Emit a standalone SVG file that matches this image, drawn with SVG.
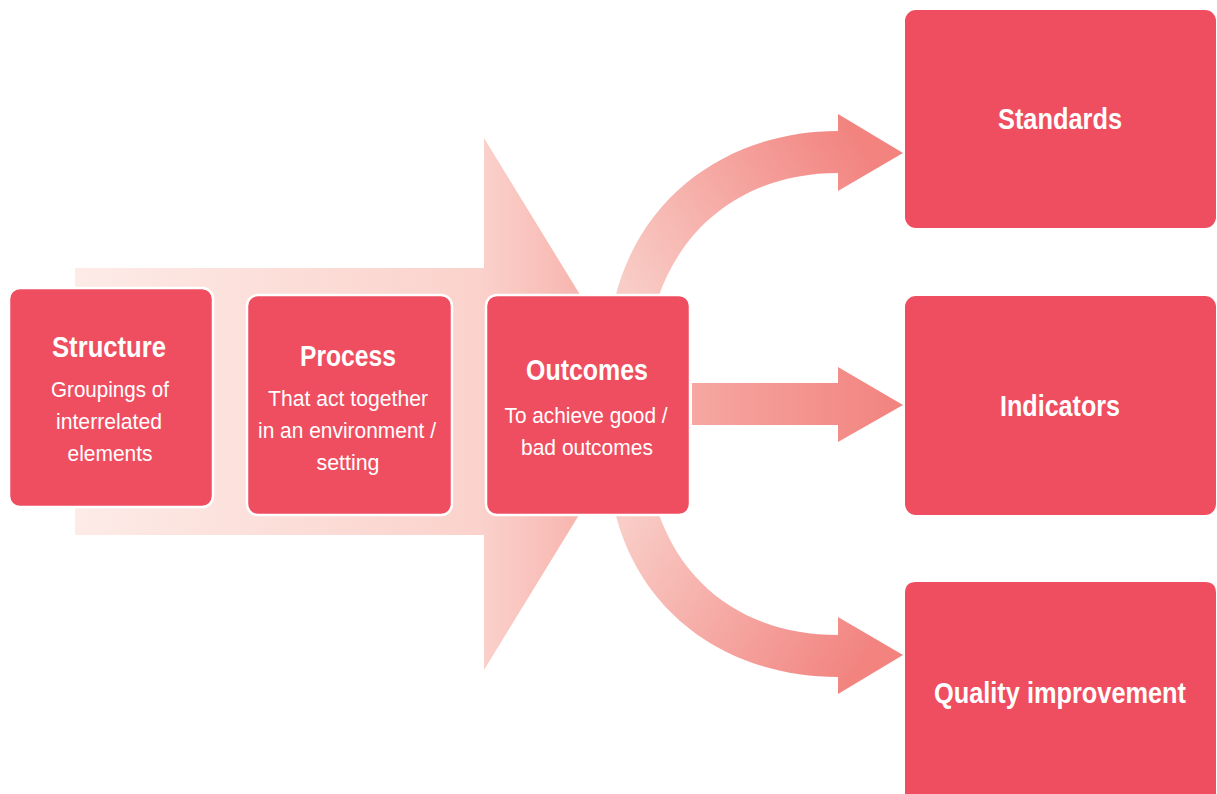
<svg xmlns="http://www.w3.org/2000/svg" width="1217" height="794" viewBox="0 0 1217 794">
<style>
.box{fill:#ef4e60;stroke:#ffffff;stroke-width:2.5}
.rbox{fill:#ef4e60}
.t{font-family:"Liberation Sans",Arial,sans-serif;fill:#ffffff;text-anchor:middle}
.h{font-weight:bold;font-size:30px}
.s{font-size:22.5px}
</style>
<defs>
<linearGradient id="big" x1="75" y1="0" x2="650" y2="0" gradientUnits="userSpaceOnUse">
<stop offset="0" stop-color="#fdebe7"/>
<stop offset="0.7" stop-color="#fbd2cc"/>
<stop offset="1" stop-color="#f5a29c"/>
</linearGradient>
<linearGradient id="gTop" x1="625" y1="290" x2="860" y2="140" gradientUnits="userSpaceOnUse">
<stop offset="0" stop-color="#f9cdc7"/>
<stop offset="1" stop-color="#f2837f"/>
</linearGradient>
<linearGradient id="gBot" x1="625" y1="518" x2="860" y2="668" gradientUnits="userSpaceOnUse">
<stop offset="0" stop-color="#f9cdc7"/>
<stop offset="1" stop-color="#f2837f"/>
</linearGradient>
<linearGradient id="gMid" x1="692" y1="0" x2="900" y2="0" gradientUnits="userSpaceOnUse">
<stop offset="0" stop-color="#f6a7a1"/>
<stop offset="1" stop-color="#f2837f"/>
</linearGradient>
</defs>
<g id="connectors">
<path d="M75,268 L484,268 L484,138 L647,404 L484,670 L484,535 L75,535 Z" fill="url(#big)"/>
<path d="M615,298 C642,190 735,131 838,131 L838,114 L903,153 L838,191 L838,173 C760,173 688,212 658,298 Z" fill="url(#gTop)"/>
<path d="M692,383 L838,383 L838,367 L903,405 L838,442 L838,425 L692,425 Z" fill="url(#gMid)"/>
<path d="M615,512 C642,620 735,677 838,677 L838,694 L903,655 L838,617 L838,635 C760,635 688,598 658,512 Z" fill="url(#gBot)"/>
</g>
<g id="structure">
<rect class="box" x="9" y="288" width="204" height="219" rx="11"/>
<text class="t h" x="109" y="357" textLength="114" lengthAdjust="spacingAndGlyphs">Structure</text>
<text class="t s" x="110" y="397" textLength="118" lengthAdjust="spacingAndGlyphs">Groupings of</text>
<text class="t s" x="109" y="429" textLength="106" lengthAdjust="spacingAndGlyphs">interrelated</text>
<text class="t s" x="110" y="461" textLength="85" lengthAdjust="spacingAndGlyphs">elements</text>
</g>
<g id="process">
<rect class="box" x="247" y="295" width="205" height="220" rx="11"/>
<text class="t h" x="348" y="366" textLength="96" lengthAdjust="spacingAndGlyphs">Process</text>
<text class="t s" x="348" y="406" textLength="160" lengthAdjust="spacingAndGlyphs">That act together</text>
<text class="t s" x="347" y="438" textLength="178" lengthAdjust="spacingAndGlyphs">in an environment /</text>
<text class="t s" x="348" y="470" textLength="63" lengthAdjust="spacingAndGlyphs">setting</text>
</g>
<g id="outcomes">
<rect class="box" x="486" y="295" width="204" height="220" rx="11"/>
<text class="t h" x="587" y="380" textLength="122" lengthAdjust="spacingAndGlyphs">Outcomes</text>
<text class="t s" x="586" y="423" textLength="163" lengthAdjust="spacingAndGlyphs">To achieve good /</text>
<text class="t s" x="587" y="455" textLength="132" lengthAdjust="spacingAndGlyphs">bad outcomes</text>
</g>
<g id="standards">
<rect class="rbox" x="905" y="10" width="311" height="218" rx="11"/>
<text class="t h" x="1060" y="129" textLength="124" lengthAdjust="spacingAndGlyphs">Standards</text>
</g>
<g id="indicators">
<rect class="rbox" x="905" y="296" width="311" height="219" rx="11"/>
<text class="t h" x="1060" y="416" textLength="120" lengthAdjust="spacingAndGlyphs">Indicators</text>
</g>
<g id="quality">
<path class="rbox" d="M916,582 L1205,582 Q1216,582 1216,593 L1216,794 L905,794 L905,593 Q905,582 916,582 Z"/>
<text class="t h" x="1060" y="703" textLength="252" lengthAdjust="spacingAndGlyphs">Quality improvement</text>
</g>
</svg>
